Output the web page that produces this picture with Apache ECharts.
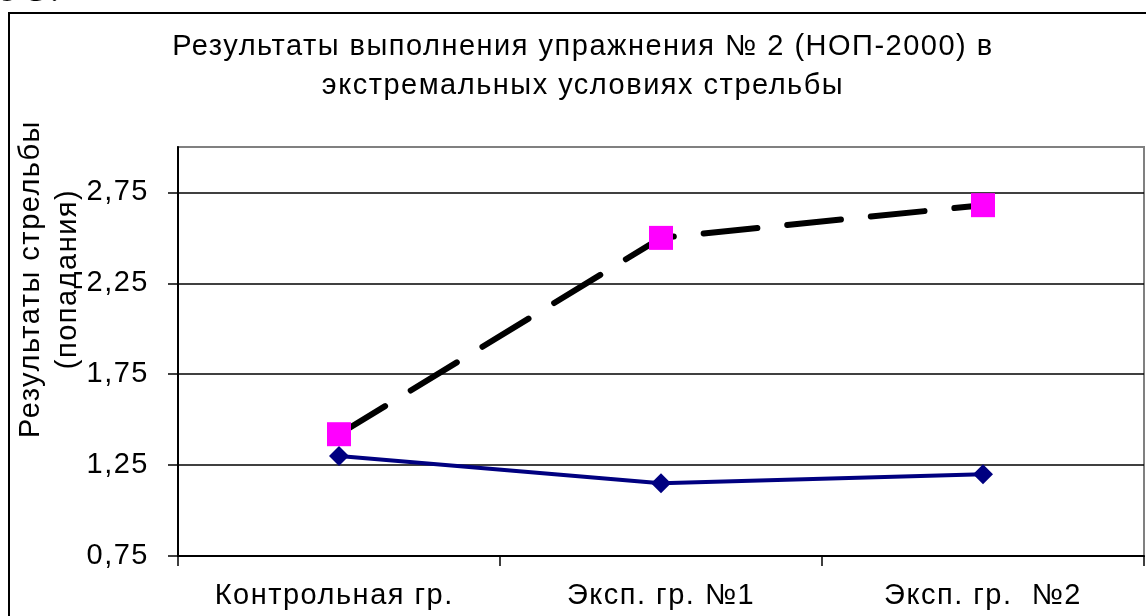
<!DOCTYPE html>
<html>
<head>
<meta charset="utf-8">
<title>Результаты выполнения упражнения № 2</title>
<script src="https://cdn.jsdelivr.net/npm/echarts@6/dist/echarts.min.js"></script>
<style>
  html, body { margin: 0; padding: 0; background: #fff; }
  #chart { width: 1146px; height: 616px; }
</style>
</head>
<body>
<div id="chart"></div>
<script>
// Groups and shooting results (hits)
const categories = ['Контрольная гр. ', 'Эксп. гр. №1', 'Эксп. гр.  №2'];
const seriesBefore = [1.30, 1.15, 1.20];
const seriesAfter = [1.42, 2.50, 2.68];
const tickValues = [0.75, 1.25, 1.75, 2.25, 2.75];

const FONT = '"Liberation Sans", Arial, sans-serif';
const FS = 29;
const fmt = v => v.toFixed(2).replace('.', ',');

// Office-style text is set a little looser than the browser default:
// every time a font is applied to a 2D context, add a small letter spacing.
(function () {
  const proto = window.CanvasRenderingContext2D && CanvasRenderingContext2D.prototype;
  if (!proto || !('letterSpacing' in proto)) return;
  const desc = Object.getOwnPropertyDescriptor(proto, 'font');
  if (!desc || !desc.set) return;
  Object.defineProperty(proto, 'font', {
    configurable: true,
    enumerable: desc.enumerable,
    get() { return desc.get.call(this); },
    set(v) {
      desc.set.call(this, v);
      this.letterSpacing = '1.5px';
    }
  });
})();

const chart = echarts.init(document.getElementById('chart'), null, { renderer: 'canvas' });

chart.setOption({
  animation: false,
  backgroundColor: '#fff',
  title: {
    text: 'Результаты выполнения упражнения № 2 (НОП-2000) в\nэкстремальных условиях стрельбы',
    left: 583,
    top: 27,
    padding: 0,
    textAlign: 'center',
    textStyle: {
      fontFamily: FONT,
      fontSize: FS,
      fontWeight: 'normal',
      color: '#000',
      lineHeight: 39
    }
  },
  grid: {
    left: 178,
    top: 147,
    right: 2,
    bottom: 60,
    show: true,
    borderColor: '#808080',
    borderWidth: 2,
    containLabel: false
  },
  xAxis: {
    type: 'category',
    data: categories,
    boundaryGap: true,
    axisLine: { lineStyle: { color: '#000', width: 2 } },
    axisTick: { show: true, inside: false, length: 10, lineStyle: { color: '#000', width: 1.5 } },
    axisLabel: {
      interval: 0,
      margin: 25,
      fontFamily: FONT,
      fontSize: FS,
      color: '#000'
    },
    splitLine: { show: false }
  },
  yAxis: {
    type: 'value',
    min: 0.75,
    max: 3,
    interval: 0.5,
    axisLine: { show: true, lineStyle: { color: '#000', width: 2 } },
    axisTick: {
      show: true,
      inside: false,
      length: 10,
      customValues: tickValues,
      lineStyle: { color: '#000', width: 1.5 }
    },
    axisLabel: {
      margin: 29,
      customValues: tickValues,
      formatter: fmt,
      fontFamily: FONT,
      fontSize: FS,
      color: '#000'
    },
    splitLine: { show: true, lineStyle: { color: '#000', width: 1.5 } }
  },
  graphic: [
    {
      type: 'rect',
      silent: true,
      shape: { x: 9, y: 13, width: 1300, height: 800 },
      style: { fill: 'none', stroke: '#000', lineWidth: 2 },
      z: -1
    },
    {
      type: 'text',
      silent: true,
      x: 61,
      y: 11,
      style: {
        text: 'ке 5.',
        fontFamily: '"Liberation Serif", "Times New Roman", serif',
        fontSize: 40,
        fill: '#000',
        textAlign: 'right',
        textVerticalAlign: 'bottom'
      }
    },
    {
      type: 'text',
      silent: true,
      x: 49,
      y: 279,
      rotation: Math.PI / 2,
      style: {
        text: 'Результаты стрельбы\n(попадания)',
        fontFamily: FONT,
        fontSize: FS,
        lineHeight: 37,
        fill: '#000',
        textAlign: 'center',
        textVerticalAlign: 'middle'
      }
    }
  ],
  series: [
    {
      name: 'До',
      type: 'line',
      data: seriesBefore,
      symbol: 'diamond',
      symbolSize: 20,
      lineStyle: { color: '#000080', width: 4 },
      itemStyle: { color: '#000080' },
      z: 2
    },
    {
      name: 'После',
      type: 'line',
      data: seriesAfter,
      symbol: 'rect',
      symbolSize: 24,
      lineStyle: { color: '#000', width: 6, type: [54, 30], cap: 'round' },
      itemStyle: { color: '#ff00ff' },
      z: 3
    }
  ]
});
</script>
</body>
</html>
